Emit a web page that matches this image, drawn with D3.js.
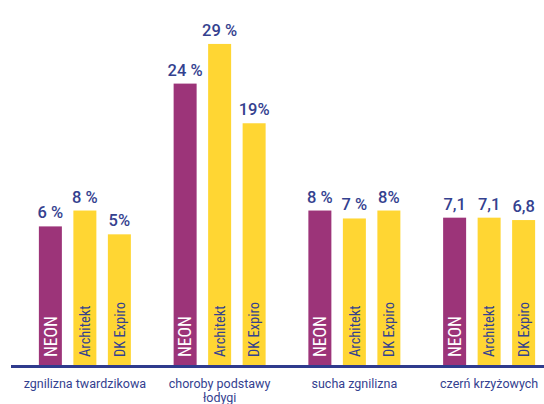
<!DOCTYPE html>
<html>
<head>
<meta charset="utf-8">
<script src="https://cdn.jsdelivr.net/npm/d3@7/dist/d3.min.js"></script>
<style>
  html, body { margin: 0; padding: 0; background: #fff; }
  svg { display: block; }
</style>
</head>
<body>
<svg id="chart" width="544" height="404"></svg>
<script>
// ---- data ----
const categories = ["zgnilizna twardzikowa", "choroby podstawy łodygi", "sucha zgnilizna", "czerń krzyżowych"];
const categoryLines = [["zgnilizna twardzikowa"], ["choroby podstawy", "łodygi"], ["sucha zgnilizna"], ["czerń krzyżowych"]];
const series = ["NEON", "Architekt", "DK Expiro"];
const neonValues = [6, 24, 8, 7.1];
const architektValues = [8, 29, 7, 7.1];
const dkExpiroValues = [5, 19, 8, 6.8];
const neonLabels = ["6 %", "24 %", "8 %", "7,1"];
const architektLabels = ["8 %", "29 %", "7 %", "7,1"];
const dkExpiroLabels = ["5%", "19%", "8%", "6,8"];

// ---- styles ----
const PURPLE = "#9c3479";
const YELLOW = "#ffd633";
const NAVY = "#2f3b8d";
const TEXT_NAVY = "#34418f";
const COND = "'Roboto Condensed','Liberation Sans Narrow','Roboto','Noto Sans',sans-serif";
const REG = "'Roboto','Noto Sans',sans-serif";

const svg = d3.select("#chart");
const baseline = 365;

const seriesValues = [neonValues, architektValues, dkExpiroValues];
const seriesLabels = [neonLabels, architektLabels, dkExpiroLabels];
const seriesColors = [PURPLE, YELLOW, YELLOW];
const seriesTextColors = ["#ffffff", TEXT_NAVY, TEXT_NAVY];
const seriesTextSize = [17.5, 14.5, 14.5];

const x0 = d3.scaleBand().domain(categories).range([17.5, 556.5]);
const x1 = d3.scaleBand().domain(series).range([-46, 46]).paddingInner(1 / 3);
const y = d3.scaleLinear().domain([0, 30]).range([baseline - 91, baseline - 329]);

const rows = [];
categories.forEach((c, ci) => {
  series.forEach((s, si) => {
    rows.push({ c, ci, s, si, v: seriesValues[si][ci], label: seriesLabels[si][ci] });
  });
});

const cx = d => x0(d.c) + x0.bandwidth() / 2 + x1(d.s);

// bars
svg.append("g").selectAll("rect").data(rows).join("rect")
  .attr("x", cx)
  .attr("y", d => y(d.v))
  .attr("width", x1.bandwidth())
  .attr("height", d => baseline - y(d.v))
  .attr("fill", d => seriesColors[d.si]);

// value labels
svg.append("g").selectAll("text").data(rows).join("text")
  .attr("x", d => cx(d) + x1.bandwidth() / 2)
  .attr("y", d => y(d.v) - 8)
  .attr("text-anchor", "middle")
  .attr("font-family", REG)
  .attr("font-weight", 500)
  .attr("font-size", 16.5)
  .attr("fill", TEXT_NAVY)
  .text(d => d.label);

// rotated series names inside bars
svg.append("g").selectAll("text").data(rows).join("text")
  .attr("transform", d => `translate(${cx(d) + x1.bandwidth() / 2},${baseline - 8}) rotate(-90)`)
  .attr("dy", "0.36em")
  .attr("font-family", COND)
  .attr("font-size", d => seriesTextSize[d.si])
  .attr("fill", d => seriesTextColors[d.si])
  .text(d => d.s);

// axis baseline
svg.append("line")
  .attr("x1", 11).attr("x2", 544)
  .attr("y1", baseline + 1.5).attr("y2", baseline + 1.5)
  .attr("stroke", NAVY).attr("stroke-width", 3);

// category labels
const cat = svg.append("g").selectAll("text").data(categories).join("text")
  .attr("x", d => x0(d) + x0.bandwidth() / 2)
  .attr("y", 388)
  .attr("text-anchor", "middle")
  .attr("font-family", REG)
  .attr("font-size", 12.5)
  .attr("fill", TEXT_NAVY);
cat.each(function (d, i) {
  const t = d3.select(this);
  categoryLines[i].forEach((line, li) => {
    t.append("tspan")
      .attr("x", x0(d) + x0.bandwidth() / 2)
      .attr("dy", li === 0 ? 0 : 14)
      .text(line);
  });
});
</script>
</body>
</html>
